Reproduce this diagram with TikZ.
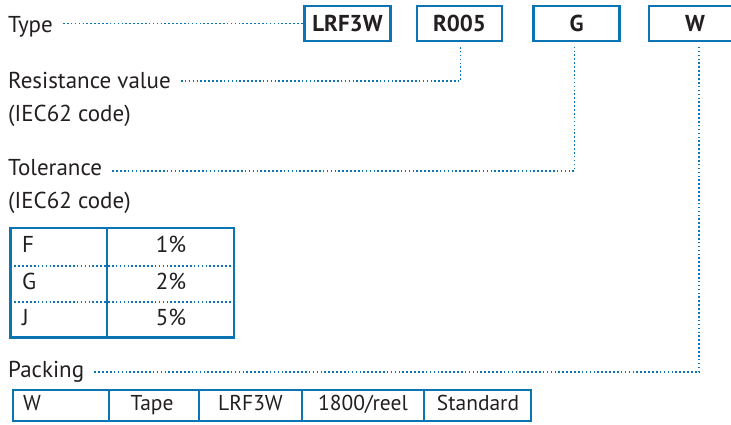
\documentclass[tikz,border=0pt]{standalone}
\usepackage{fontspec}
\setmainfont{PT Sans}
\definecolor{lblue}{HTML}{0A74B4}
\definecolor{txt}{HTML}{231F20}
\begin{document}
\begin{tikzpicture}[x=1pt,y=-1pt,
  font=\fontsize{23}{26}\selectfont, text=txt,
  codebox/.style={draw=lblue, line width=2.6pt, minimum height=35pt, inner sep=0pt,
    font=\fontsize{23}{26}\selectfont\bfseries},
  dots/.style={draw=lblue, line width=1.7pt, dash pattern=on 1.6pt off 2.3pt},
  frame/.style={draw=lblue, line width=2.5pt},
  divider/.style={draw=lblue, line width=2.2pt},
  lbl/.style={anchor=base west, inner sep=0pt},
  cell/.style={inner sep=0pt, text height=16pt, text depth=4.5pt},
  pcell/.style={inner sep=0pt, text height=15pt, text depth=4.2pt, font=\fontsize{21.5}{24}\selectfont}]
\useasboundingbox (0,0) rectangle (731,424);

% code boxes
\node[codebox, minimum width=86pt] (b1) at (347.5,23.5) {LRF3W};
\node[codebox, minimum width=85pt] (b2) at (459.5,23.5) {R005};
\node[codebox, minimum width=86pt] (b3) at (576.5,23.5) {G};
\node[codebox, minimum width=92pt] (b4) at (695,23.5) {W};

% labels
\node[lbl] (type) at (8,32) {Type};
\node[lbl] (res) at (8,88) {Resistance value};
\node[lbl] (iec1) at (8,121) {(IEC62 code)};
\node[lbl] (tol) at (8,175) {Tolerance};
\node[lbl] (iec2) at (8,208) {(IEC62 code)};
\node[lbl] (pack) at (8,377) {Packing};

% connector corners
\coordinate (c1) at (460.5,81);
\coordinate (c2) at (574.5,171);
\coordinate (c3) at (699,372);

\draw[dots] ([xshift=10pt]type.east |- b1.west) -- (b1.west);
\draw[dots] ([xshift=10pt]res.east |- c1) -- (c1) -- ([yshift=-5pt]c1 |- b2.south);
\draw[dots] ([xshift=10pt]tol.east |- c2) -- (c2) -- ([yshift=-5pt]c2 |- b3.south);
\draw[dots] ([xshift=10pt]pack.east |- c3) -- (c3) -- ([yshift=-5pt]c3 |- b4.south);

% tolerance table
\draw[frame] (10.5,228) rectangle (234,337.5);
\draw[divider] (107,228) -- (107,337.5);
\draw[dots] (10.5,266) -- (234,266);
\draw[dots] (10.5,302) -- (234,302);
\node[cell, anchor=west] (tF) at (22,246.5) {F};
\node[cell] (t1) at (171,246.5) {1\%};
\node[cell, anchor=west] (tG) at (22,284) {G};
\node[cell] (t2) at (171,284) {2\%};
\node[cell, anchor=west] (tJ) at (22,320) {J};
\node[cell] (t5) at (171,320) {5\%};

% packing table
\draw[frame] (13,390) rectangle (531,421);
\foreach \xx in {109,199,302,424} \draw[divider] (\xx,390) -- (\xx,421);
\node[pcell, anchor=west] (pW) at (23,405.5) {W};
\node[pcell] (pT) at (152,405.5) {Tape};
\node[pcell] (pL) at (250.5,405.5) {LRF3W};
\node[pcell] (pR) at (363,405.5) {1800/reel};
\node[pcell] (pS) at (478,405.5) {Standard};
\end{tikzpicture}
\end{document}
